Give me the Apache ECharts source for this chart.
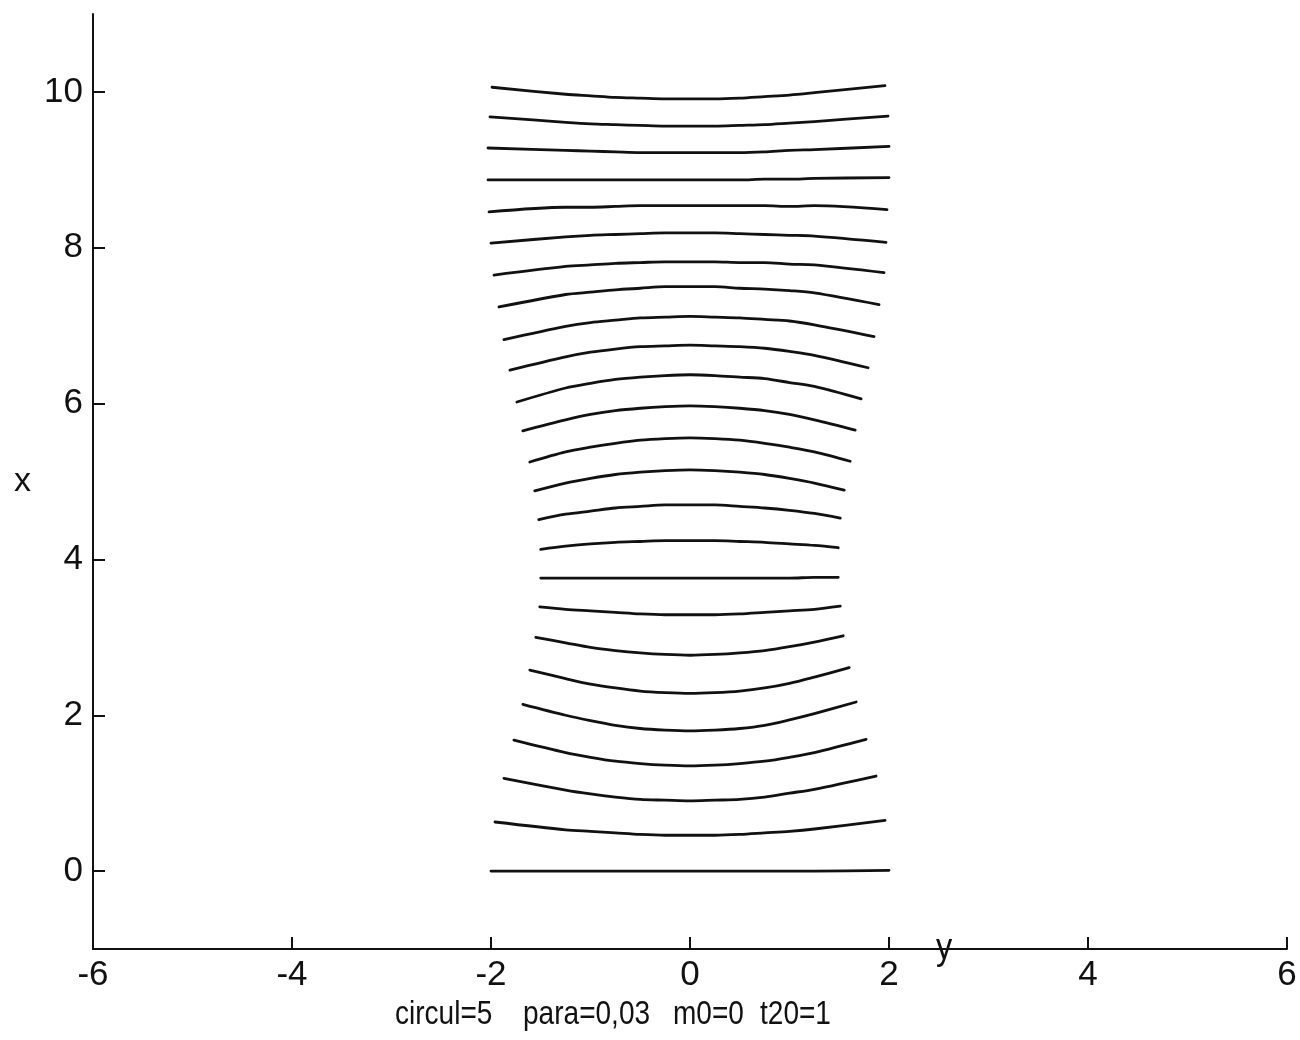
<!DOCTYPE html>
<html><head><meta charset="utf-8">
<script src="https://cdn.jsdelivr.net/npm/echarts@6/dist/echarts.min.js"></script>
<style>html,body{margin:0;padding:0;background:#fff}#c{width:1300px;height:1040px}</style>
</head><body><div id="c"></div>
<script>
// 25 curves (bottom to top). Ends, plus values at fixed interior x positions.
const leftX  = [-2.00,-1.96,-1.87,-1.77,-1.68,-1.61,-1.55,-1.51,-1.50,-1.50,-1.52,-1.56,-1.61,-1.68,-1.74,-1.81,-1.87,-1.92,-1.97,-2.00,-2.02,-2.03,-2.03,-2.01,-1.99];
const rightX = [ 2.00, 1.96, 1.87, 1.77, 1.67, 1.60, 1.54, 1.51, 1.49, 1.49, 1.51, 1.55, 1.61, 1.66, 1.72, 1.79, 1.85, 1.90, 1.95, 1.97, 1.98, 2.00, 2.00, 1.99, 1.96];
const leftY  = [0.00,0.63,1.19,1.68,2.14,2.58,3.00,3.39,3.76,4.13,4.51,4.88,5.25,5.65,6.02,6.43,6.82,7.24,7.65,8.06,8.46,8.87,9.28,9.68,10.06];
const rightY = [0.01,0.65,1.22,1.69,2.17,2.61,3.02,3.40,3.77,4.15,4.53,4.89,5.26,5.66,6.06,6.46,6.86,7.27,7.68,8.07,8.49,8.90,9.30,9.69,10.08];
const innerX = [-1.25,-1,-0.75,-0.5,-0.25,0,0.25,0.5,0.75,1,1.25];
const yM125 = [0,0.53,1.04,1.52,2.00,2.47,2.93,3.36,3.76,4.17,4.58,4.98,5.38,5.79,6.20,6.60,6.99,7.40,7.76,8.14,8.52,8.87,9.25,9.61,9.97];
const yM100 = [0,0.51,0.99,1.46,1.93,2.40,2.87,3.34,3.76,4.20,4.62,5.04,5.44,5.86,6.26,6.66,7.04,7.43,7.78,8.16,8.52,8.87,9.24,9.59,9.95];
const yM075 = [0,0.49,0.95,1.41,1.87,2.35,2.83,3.32,3.76,4.22,4.66,5.09,5.49,5.91,6.31,6.70,7.07,7.46,7.80,8.17,8.53,8.87,9.23,9.58,9.93];
const yM050 = [0,0.47,0.92,1.38,1.83,2.31,2.80,3.30,3.76,4.23,4.68,5.12,5.53,5.94,6.34,6.73,7.10,7.48,7.81,8.18,8.54,8.87,9.22,9.57,9.92];
const yM025 = [0,0.46,0.91,1.36,1.81,2.29,2.78,3.29,3.76,4.24,4.70,5.14,5.55,5.96,6.36,6.74,7.11,7.50,7.82,8.19,8.54,8.87,9.22,9.56,9.91];
const y000  = [0,0.46,0.90,1.35,1.80,2.28,2.77,3.29,3.76,4.24,4.70,5.15,5.56,5.97,6.37,6.75,7.12,7.50,7.82,8.19,8.54,8.87,9.22,9.56,9.91];
const yP025 = [0,0.46,0.91,1.36,1.81,2.29,2.78,3.29,3.76,4.24,4.70,5.14,5.55,5.96,6.36,6.74,7.11,7.50,7.82,8.19,8.54,8.87,9.22,9.56,9.91];
const yP050 = [0,0.47,0.92,1.38,1.83,2.31,2.80,3.30,3.76,4.23,4.68,5.12,5.53,5.94,6.34,6.73,7.10,7.48,7.81,8.18,8.54,8.87,9.22,9.57,9.92];
const yP075 = [0,0.49,0.95,1.41,1.87,2.35,2.83,3.32,3.76,4.22,4.66,5.09,5.49,5.91,6.32,6.71,7.08,7.47,7.81,8.17,8.54,8.88,9.23,9.58,9.94];
const yP100 = [0,0.51,1.00,1.46,1.94,2.41,2.88,3.34,3.76,4.20,4.63,5.04,5.44,5.86,6.27,6.67,7.06,7.45,7.79,8.16,8.53,8.88,9.25,9.60,9.96];
const yP125 = [0,0.54,1.05,1.52,2.02,2.49,2.94,3.36,3.77,4.18,4.59,4.98,5.38,5.79,6.22,6.62,7.01,7.42,7.78,8.15,8.54,8.89,9.26,9.62,9.99];
const xTicks = [-6,-4,-2,0,2,4,6];
const yTicks = [0,2,4,6,8,10];
const captionParts = ['circul=5', 'para=0,03', 'm0=0', 't20=1'];

const columns = [yM125, yM100, yM075, yM050, yM025, y000, yP025, yP050, yP075, yP100, yP125];
const series = leftX.map((lx, i) => ({
  type: 'line', smooth: 0.3, symbol: 'none', silent: true,
  lineStyle: {color: '#111', width: 2.8, cap: 'round', join: 'round'},
  data: [[lx, leftY[i]]].concat(innerX.map((x, k) => [x, columns[k][i]])).concat([[rightX[i], rightY[i]]])
}));

const font = '"Liberation Sans", Arial, Helvetica, sans-serif';
const capX = [395, 523, 673, 760];
const chart = echarts.init(document.getElementById('c'), null, {renderer: 'canvas'});
chart.setOption({
  animation: false,
  backgroundColor: '#fff',
  grid: {left: 93, right: 13, top: 14, bottom: 91, containLabel: false},
  xAxis: {
    type: 'value', min: -6, max: 6,
    axisLine: {show: true, onZero: false, lineStyle: {color: '#111', width: 2}},
    axisTick: {show: true, inside: true, length: 12, customValues: xTicks, lineStyle: {color: '#111', width: 2}},
    axisLabel: {customValues: xTicks, color: '#111', fontSize: 35, fontFamily: font, margin: 9},
    splitLine: {show: false}
  },
  yAxis: {
    type: 'value', min: -1, max: 11,
    name: 'x', nameLocation: 'middle', nameGap: 62, nameRotate: 0,
    nameTextStyle: {color: '#111', fontSize: 34, fontFamily: font},
    axisLine: {show: true, onZero: false, lineStyle: {color: '#111', width: 2}},
    axisTick: {show: true, inside: true, length: 12, customValues: yTicks, lineStyle: {color: '#111', width: 2}},
    axisLabel: {customValues: yTicks, color: '#111', fontSize: 35, fontFamily: font, margin: 10},
    splitLine: {show: false}
  },
  graphic: [
    {type: 'text', left: 936, top: 931, scaleX: 0.9, style: {text: 'y', fontSize: 36, fontFamily: font, fill: '#111'}}
  ].concat(captionParts.map((t, k) => ({
    type: 'text', left: capX[k], top: 998, scaleX: 0.85, style: {text: t, fontSize: 33, fontFamily: font, fill: '#111'}
  }))),
  series: series
});
</script></body></html>
